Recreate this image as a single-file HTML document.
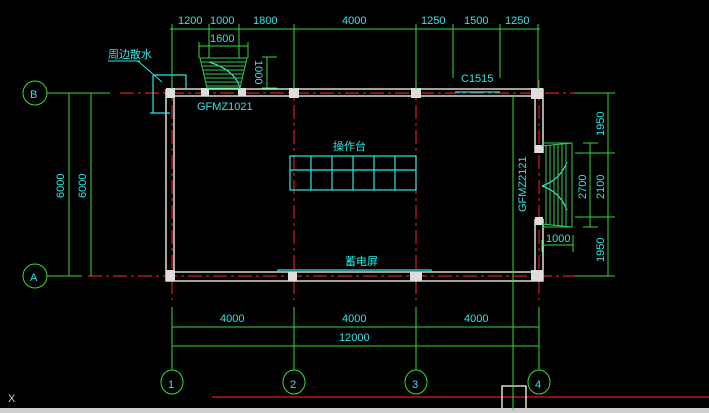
<!DOCTYPE html>
<html><head><meta charset="utf-8"><style>
html,body{margin:0;padding:0;background:#000;width:709px;height:413px;overflow:hidden}
svg{display:block}
text{font-family:"Liberation Sans","Noto Sans CJK SC",sans-serif;fill:#2ee6e6;font-size:11px}
</style></head><body>
<svg width="709" height="413" viewBox="0 0 709 413">
<g stroke="#d81c1c" stroke-width="1.2" fill="none" stroke-dasharray="14,4,3,4">
<line x1="120" y1="93" x2="575" y2="93"/>
<line x1="88" y1="276" x2="575" y2="276"/>
<line x1="172" y1="80" x2="172" y2="300"/>
<line x1="294" y1="80" x2="294" y2="300"/>
<line x1="416" y1="80" x2="416" y2="300"/>
<line x1="539" y1="80" x2="539" y2="300"/>
</g>
<line x1="212" y1="397" x2="709" y2="397" stroke="#d81c1c" stroke-width="1.2"/>
<g stroke="#fff" stroke-width="1.3" fill="none">
<path d="M166 89 H543 V153 M535 153 V96 H174 V272 H535 V219 M543 219 V281 H166 V89"/>
<path d="M502 413 V386 H526 V413"/>
</g>
<g fill="#ddd">
<rect x="166" y="88" width="9" height="10"/><rect x="201" y="88" width="8" height="8"/><rect x="238" y="88" width="8" height="8"/>
<rect x="289" y="88" width="10" height="10"/><rect x="411" y="88" width="10" height="10"/><rect x="531" y="88" width="12" height="11"/>
<rect x="535" y="145" width="8" height="8"/><rect x="535" y="217" width="8" height="8"/>
<rect x="166" y="270" width="9" height="11"/><rect x="288" y="272" width="9" height="9"/><rect x="410" y="272" width="12" height="9"/><rect x="531" y="270" width="12" height="11"/>
</g>
<rect x="0" y="408" width="709" height="5" fill="#cfcfcf"/>
<g stroke="#2ee6e6" stroke-width="1.2" fill="none">
<line x1="455" y1="92" x2="500" y2="92"/>
<path d="M278 272 V270 H431 V272"/>
<rect x="290" y="156" width="126" height="34"/>
<line x1="290" y1="170" x2="416" y2="170"/>
<line x1="311" y1="156" x2="311" y2="190"/><line x1="332" y1="156" x2="332" y2="190"/><line x1="353" y1="156" x2="353" y2="190"/><line x1="374" y1="156" x2="374" y2="190"/><line x1="395" y1="156" x2="395" y2="190"/>
<path d="M153 75 V113 M150 113 H170 M153 75 H186 V89"/>
<path d="M209 62 Q235 70 240 88"/>
<path d="M542 186 Q560 180 567 162 M542 186 Q560 192 567 210"/>
</g>
<line x1="138" y1="61" x2="162" y2="82" stroke="#2ee6e6" stroke-width="1"/>
<line x1="108" y1="61" x2="140" y2="61" stroke="#2ee6e6" stroke-width="1"/>
<g stroke="#2ecc55" stroke-width="1" fill="none">
<path d="M200 58 H247 L240 88 H207 Z"/>
<path d="M201 62 H246 M202 66 H245 M203 70 H244 M204 74 H243 M205 78 H242 M206 82 H241 M207 86 H240"/>
<path d="M542 143 H572 V227 H542 M542 146 L572 143 M542 224 L572 227"/>
<path d="M546 145 V225 M550 145 V225 M554 144 V226 M558 144 V226 M562 144 V226 M566 144 V226"/>
</g>
<g stroke="#33dd33" stroke-width="1" fill="none">
<line x1="170" y1="29" x2="540" y2="29"/>
<path d="M172 24 V89 M209 24 V58 M239 24 V58 M294 24 V89 M416 24 V89 M453 24 V78 M500 24 V78 M538 24 V89"/>
<line x1="199" y1="46" x2="248" y2="46"/><path d="M199 42 V58 M248 42 V58"/>
<path d="M267 57 V88 M262 57 H277 M262 88 H277"/>
<line x1="47" y1="93" x2="110" y2="93"/><line x1="47" y1="276" x2="82" y2="276"/>
<line x1="69" y1="93" x2="69" y2="276"/><line x1="91" y1="93" x2="91" y2="276"/>
<circle cx="35" cy="93" r="12"/><circle cx="35" cy="276" r="12"/>
<line x1="513" y1="96" x2="513" y2="410"/>
<line x1="608" y1="93" x2="608" y2="276"/>
<path d="M575 93 H615 M575 153 H615 M575 217 H615 M575 276 H615 M583 143 H598 M583 227 H598"/>
<line x1="590" y1="143" x2="590" y2="227"/>
<path d="M542 245 H573 M542 240 V252 M573 235 V252"/>
<path d="M172 307 V370 M294 307 V370 M416 307 V370 M539 307 V370"/>
<line x1="172" y1="327" x2="539" y2="327"/><line x1="172" y1="346" x2="539" y2="346"/>
<ellipse cx="172" cy="382" rx="11" ry="12"/><ellipse cx="294" cy="382" rx="11" ry="12"/><ellipse cx="416" cy="382" rx="11" ry="12"/><ellipse cx="539" cy="382" rx="11" ry="12"/>
</g>
<g font-size="11">
<text x="178" y="24">1200</text><text x="210" y="24">1000</text><text x="253" y="24">1800</text><text x="342" y="24">4000</text>
<text x="421" y="24">1250</text><text x="464" y="24">1500</text><text x="505" y="24">1250</text>
<text x="210" y="42">1600</text>
<text x="461" y="82">C1515</text>
<text x="197" y="110" font-size="12">GFMZ1021</text>
<text x="108" y="58" font-size="10">周边散水</text>
<text x="333" y="150" font-size="9">操作台</text>
<text x="345" y="265" font-size="9">蓄电屏</text>
<text x="30" y="98" font-size="12">B</text><text x="30" y="281" font-size="12">A</text>
<text x="220" y="322">4000</text><text x="342" y="322">4000</text><text x="464" y="322">4000</text>
<text x="339" y="341">12000</text>
<text x="168" y="388" font-size="13">1</text><text x="290" y="388" font-size="13">2</text><text x="412" y="388" font-size="13">3</text><text x="535" y="388" font-size="13">4</text>
<text x="546" y="242">1000</text>
<text transform="translate(64,198) rotate(-90)">6000</text>
<text transform="translate(86,198) rotate(-90)">6000</text>
<text transform="translate(255,60) rotate(90)">1000</text>
<text transform="translate(526,212) rotate(-90)">GFMZ2121</text>
<text transform="translate(604,136) rotate(-90)">1950</text>
<text transform="translate(604,199) rotate(-90)">2100</text>
<text transform="translate(586,199) rotate(-90)">2700</text>
<text transform="translate(604,262) rotate(-90)">1950</text>
</g>
<text x="8" y="402" style="fill:#ccc" font-size="13">X</text>
</svg>
</body></html>
